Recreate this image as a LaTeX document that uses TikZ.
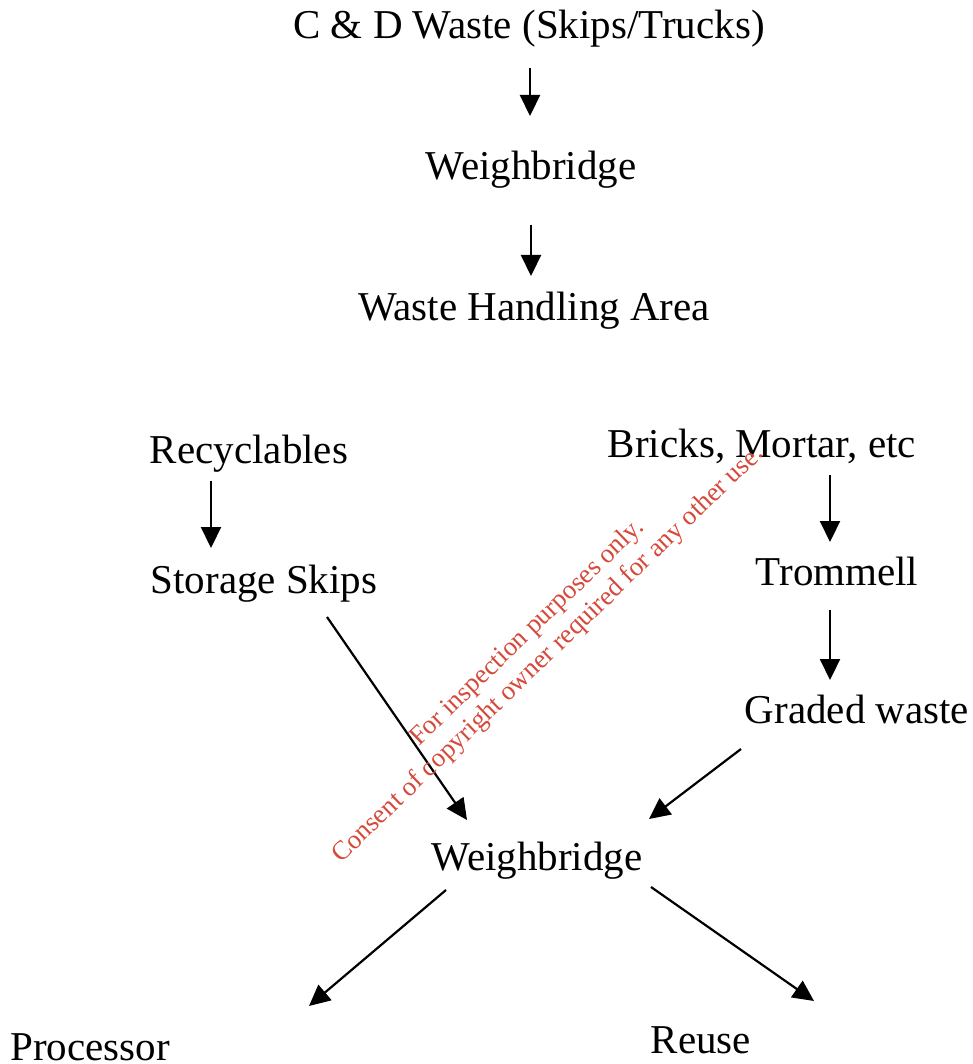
\documentclass[tikz,border=0pt]{standalone}
\usepackage{fontspec}
\setmainfont{Liberation Serif}
\usepackage{tikz}
\usetikzlibrary{arrows.meta, positioning}
\definecolor{wmred}{RGB}{214, 72, 58}

\begin{document}
\begin{tikzpicture}[
  x=1pt, y=1pt,
  stage/.style={anchor=base, inner sep=0pt, font=\fontsize{41}{49}\selectfont},
  flow/.style={line width=2.2pt, -{Triangle[length=21pt, width=20pt]}},
  watermark/.style={text=wmred, rotate=44, align=center, font=\fontsize{26.7}{30}\selectfont}
]
  \useasboundingbox (0, 0) rectangle (973, -1064);

  % Stages
  \node[stage] (cdw) at (529, -39) {C \& D Waste (Skips/Trucks)};
  \node[stage] (wb1) at (531, -180) {Weighbridge};
  \node[stage] (wha) at (534, -320) {Waste Handling Area};
  \node[stage] (recy) at (249, -463) {Recyclables};
  \node[stage] (skips) at (264, -593) {Storage Skips};
  \node[stage] (bricks) at (762, -457) {Bricks, Mortar, etc};
  \node[stage] (tromm) at (837, -585) {Trommell};
  \node[stage] (graded) at (857, -723) {Graded waste};
  \node[stage] (wb2) at (537, -870) {Weighbridge};
  \node[stage] (proc) at (90, -1060) {Processor};
  \node[stage] (reuse) at (701, -1053) {Reuse};

  % Flows
  \draw[flow] ([shift={(1,-29)}]cdw.base) -- ([shift={(-1,64)}]wb1.base);
  \draw[flow] ([shift={(0,-45)}]wb1.base) -- ([shift={(-3,44)}]wha.base);
  \draw[flow] ([shift={(-38,-18)}]recy.base) -- ([shift={(-53,45)}]skips.base);
  \draw[flow] ([shift={(68,-18)}]bricks.base) -- ([shift={(-7,43)}]tromm.base);
  \draw[flow] ([shift={(-7,-25)}]tromm.base) -- ([shift={(-27,43)}]graded.base);
  \draw[flow] ([shift={(63,-24)}]skips.base) -- ([shift={(-70,50)}]wb2.base);
  \draw[flow] ([shift={(-116,-26)}]graded.base) -- ([shift={(112,51)}]wb2.base);
  \draw[flow] ([shift={(-91,-20)}]wb2.base) -- ([shift={(219,54)}]proc.base);
  \draw[flow] ([shift={(114,-17)}]wb2.base) -- ([shift={(113,52)}]reuse.base);

  % Watermark
  \node[watermark] (wm) at (538, -644) {For inspection purposes only.\\Consent of copyright owner required for any other use.};
\end{tikzpicture}
\end{document}
